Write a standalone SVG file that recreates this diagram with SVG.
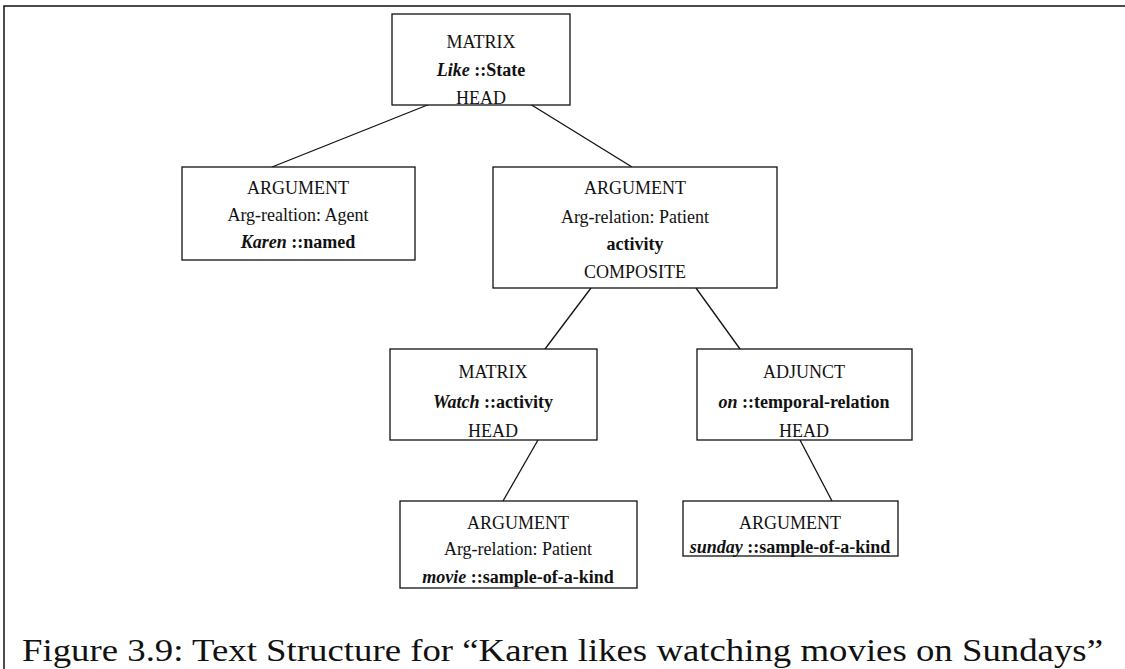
<svg xmlns="http://www.w3.org/2000/svg" width="1125" height="669" viewBox="0 0 1125 669">
<style>
.box{fill:#fff;stroke:#111;stroke-width:1.3}
.t{font-family:"Liberation Serif","Times New Roman",serif;font-size:18px;fill:#111;text-anchor:middle}
.b{font-weight:bold}
.i{font-style:italic;font-weight:bold}
.c line{stroke:#111;stroke-width:1.3}
.frame{stroke:#111;stroke-width:1.5;fill:none}
.cap{font-family:"Liberation Serif","DejaVu Serif",serif;font-size:31px;fill:#111}
</style>
<rect width="1125" height="669" fill="#fff"/>
<path class="frame" d="M4,669 V6 H1125"/>
<g class="c" id="connectors">
<line x1="430" y1="104" x2="272" y2="167"/>
<line x1="530" y1="104" x2="632" y2="167"/>
<line x1="591" y1="288" x2="545" y2="349"/>
<line x1="696" y1="288" x2="740" y2="349"/>
<line x1="538" y1="440" x2="503" y2="501"/>
<line x1="800" y1="440" x2="832" y2="501"/>
</g>
<g id="n1">
<rect class="box" x="392" y="14" width="178" height="91"/>
<text class="t" x="481" y="48">MATRIX</text>
<text class="t" x="481" y="76"><tspan class="i">Like</tspan> <tspan class="b">::State</tspan></text>
<text class="t" x="481" y="104">HEAD</text>
</g>
<g id="n2">
<rect class="box" x="182" y="167" width="233" height="93"/>
<text class="t" x="298" y="194">ARGUMENT</text>
<text class="t" x="298" y="221">Arg-realtion: Agent</text>
<text class="t" x="298" y="248"><tspan class="i">Karen</tspan> <tspan class="b">::named</tspan></text>
</g>
<g id="n3">
<rect class="box" x="493" y="167" width="284" height="121"/>
<text class="t" x="635" y="194">ARGUMENT</text>
<text class="t" x="635" y="223">Arg-relation: Patient</text>
<text class="t b" x="635" y="250">activity</text>
<text class="t" x="635" y="278">COMPOSITE</text>
</g>
<g id="n4">
<rect class="box" x="390" y="349" width="207" height="91"/>
<text class="t" x="493" y="378">MATRIX</text>
<text class="t" x="493" y="408"><tspan class="i">Watch</tspan> <tspan class="b">::activity</tspan></text>
<text class="t" x="493" y="437">HEAD</text>
</g>
<g id="n5">
<rect class="box" x="697" y="349" width="215" height="91"/>
<text class="t" x="804" y="378">ADJUNCT</text>
<text class="t" x="804" y="408"><tspan class="i">on</tspan> <tspan class="b">::temporal-relation</tspan></text>
<text class="t" x="804" y="437">HEAD</text>
</g>
<g id="n6">
<rect class="box" x="400" y="501" width="237" height="87"/>
<text class="t" x="518" y="529">ARGUMENT</text>
<text class="t" x="518" y="555">Arg-relation: Patient</text>
<text class="t" x="518" y="583"><tspan class="i">movie</tspan> <tspan class="b">::sample-of-a-kind</tspan></text>
</g>
<g id="n7">
<rect class="box" x="683" y="501" width="215" height="55"/>
<text class="t" x="790" y="529">ARGUMENT</text>
<text class="t" x="790" y="553"><tspan class="i">sunday</tspan> <tspan class="b">::sample-of-a-kind</tspan></text>
</g>
<text class="cap" x="22" y="661" textLength="1081" lengthAdjust="spacingAndGlyphs">Figure 3.9: Text Structure for “Karen likes watching movies on Sundays”</text>
</svg>
